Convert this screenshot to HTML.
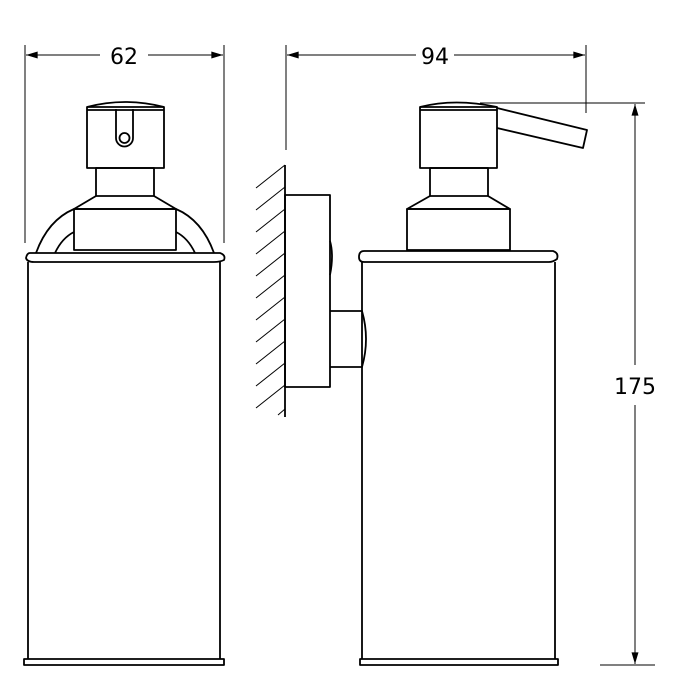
<!DOCTYPE html>
<html><head><style>body{margin:0;background:#fff}svg{display:block}</style></head><body>
<svg width="700" height="700" viewBox="0 0 700 700" xmlns="http://www.w3.org/2000/svg" font-family="'DejaVu Sans','Liberation Sans',sans-serif">
<defs><marker id="a" viewBox="0 0 10 6" refX="10" refY="3" markerWidth="12" markerHeight="7" orient="auto" markerUnits="userSpaceOnUse"><path d="M0,0L10,3L0,6z" fill="#000"/></marker></defs>
<g stroke="#000" stroke-width="1" fill="none">
<line x1="25" y1="45" x2="25" y2="243"/><line x1="224" y1="45" x2="224" y2="243"/>
<line x1="100" y1="55" x2="26" y2="55" marker-end="url(#a)"/><line x1="148" y1="55" x2="223" y2="55" marker-end="url(#a)"/>
<line x1="286" y1="45" x2="286" y2="150"/><line x1="586" y1="45" x2="586" y2="113"/>
<line x1="416" y1="55" x2="287" y2="55" marker-end="url(#a)"/><line x1="454" y1="55" x2="585" y2="55" marker-end="url(#a)"/>
<line x1="480" y1="103" x2="645" y2="103"/><line x1="600" y1="665" x2="655" y2="665"/>
<line x1="635" y1="365" x2="635" y2="104" marker-end="url(#a)"/><line x1="635" y1="405" x2="635" y2="664" marker-end="url(#a)"/>
</g>
<g fill="#000" font-size="22" text-anchor="middle">
<text x="124" y="64">62</text><text x="435" y="64">94</text><text x="635" y="394">175</text>
</g>
<g stroke="#000" stroke-width="1.8" fill="none" stroke-linejoin="round">
<path d="M87,107 Q125,97 164,107"/><rect x="87" y="107" width="77" height="61"/><line x1="87" y1="110" x2="164" y2="110"/>
<path d="M116,109 V138 A8.5,8.5 0 0 0 133,138 V109"/><circle cx="124.5" cy="138" r="5"/>
<rect x="96" y="168" width="58" height="28"/>
<path d="M96,196 L74,209 H176 L154,196"/><rect x="74" y="209" width="102" height="41"/>
<path d="M36,253 Q48,220 74,209"/><path d="M55,253 Q62,238 74,232"/>
<path d="M176,209 Q202,220 214,253"/><path d="M176,232 Q188,238 195,253"/>
<path d="M30,253 H220 Q226,255 224,260 Q220,262 214,262 H34 Q27,262 26,258 Q27,253 30,253Z"/>
<path d="M28,262 V659 M220,262 V659"/>
<rect x="24" y="659" width="200" height="6"/>
<path d="M420,107 Q455,98 497,107"/><rect x="420" y="107" width="77" height="61"/><line x1="420" y1="110" x2="497" y2="110"/>
<path d="M497,108 L587,130 L583,148 L497,128"/>
<rect x="430" y="168" width="58" height="28"/>
<path d="M430,196 L407,209 H510 L488,196"/><rect x="407" y="209" width="103" height="41"/>
<path d="M364,251 H553 Q559,253 557,259 Q553,262 549,262 H364 Q359,262 359,257 Q359,251 364,251Z"/>
<path d="M362,262 V659 M555,262 V659"/>
<rect x="360" y="659" width="198" height="6"/>
<line x1="285" y1="165" x2="285" y2="417"/>
<rect x="285" y="195" width="45" height="192"/>
<path d="M330,241 Q334,255 330,275"/>
<path d="M330,311 H362 Q370,339 362,367 H330"/>
</g>
<g stroke="#000" stroke-width="1">
<line x1="256" y1="188" x2="285" y2="165"/><line x1="256" y1="210" x2="285" y2="187"/>
<line x1="256" y1="232" x2="285" y2="209"/><line x1="256" y1="254" x2="285" y2="231"/>
<line x1="256" y1="276" x2="285" y2="253"/><line x1="256" y1="298" x2="285" y2="275"/>
<line x1="256" y1="320" x2="285" y2="297"/><line x1="256" y1="342" x2="285" y2="319"/>
<line x1="256" y1="364" x2="285" y2="341"/><line x1="256" y1="386" x2="285" y2="363"/>
<line x1="256" y1="408" x2="285" y2="385"/><line x1="278" y1="415" x2="285" y2="409"/>
</g>
</svg>
</body></html>
